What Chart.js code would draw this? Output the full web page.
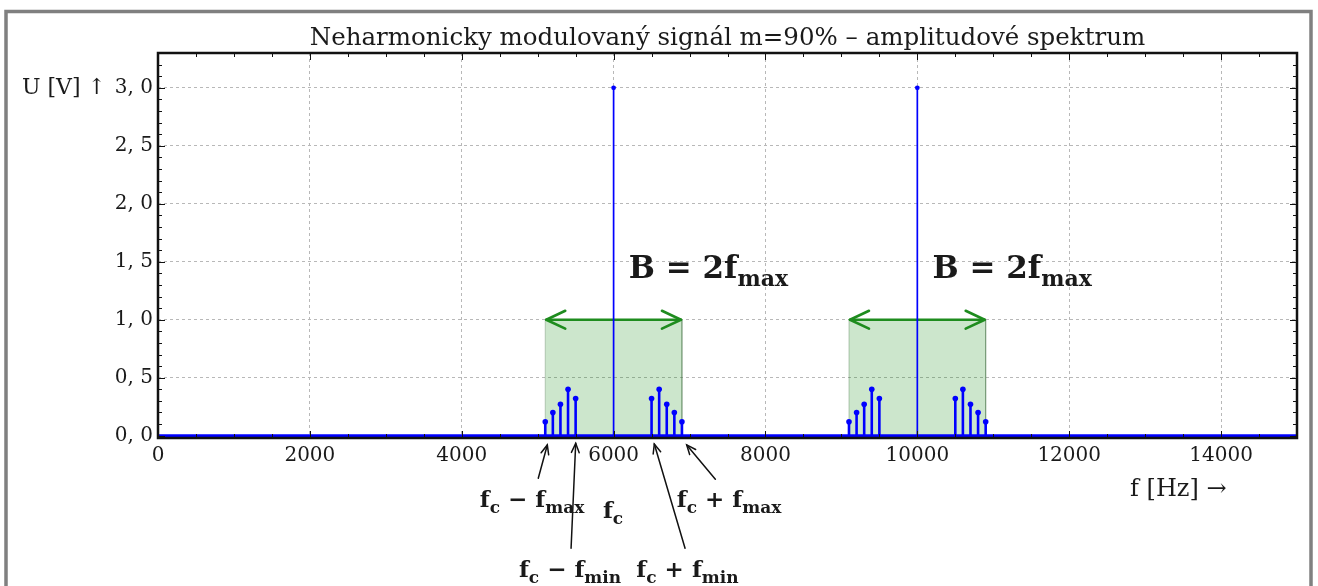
<!DOCTYPE html>
<html><head><meta charset="utf-8">
<script src="https://cdn.jsdelivr.net/npm/chart.js@4/dist/chart.umd.min.js"></script>
<style>html,body{margin:0;padding:0;background:#fff;overflow:hidden}canvas{display:block}</style>
</head><body>
<canvas id="c" width="1318" height="586" style="width:1318px;height:586px"></canvas>
<script>
// ---- data ----
const titleText = 'Neharmonicky modulovaný signál m=90% – amplitudové spektrum';
const xTickLabels = ['0', '2000', '4000', '6000', '8000', '10000', '12000', '14000'];
const yTickLabels = ['0, 0', '0, 5', '1, 0', '1, 5', '2, 0', '2, 5', '3, 0'];
const carrierFreqs = [6000, 10000];
const carrierAmps = [3.0, 3.0];
const sideFreqs = [5100, 5200, 5300, 5400, 5500, 6500, 6600, 6700, 6800, 6900,
                   9100, 9200, 9300, 9400, 9500, 10500, 10600, 10700, 10800, 10900];
const sideAmps = [0.12, 0.20, 0.27, 0.40, 0.32, 0.32, 0.40, 0.27, 0.20, 0.12,
                  0.12, 0.20, 0.27, 0.40, 0.32, 0.32, 0.40, 0.27, 0.20, 0.12];
const bandStart = [5100, 9100];
const bandEnd = [6900, 10900];
const bandLevel = [1.0, 1.0];
const freqRange = [0, 15000];

// ---- datasets built from data ----
const BLUE = '#0000ff';
function stems(freqs, amps) {
  const d = [];
  freqs.forEach((f, i) => { d.push({x: f, y: 0}, {x: f, y: amps[i]}, {x: f, y: null}); });
  return d;
}
const datasets = [
  {type: 'scatter', data: sideFreqs.map((f, i) => ({x: f, y: sideAmps[i]})), pointRadius: 2.8,
   pointBackgroundColor: BLUE, pointBorderWidth: 0, order: 0},
  {type: 'scatter', data: carrierFreqs.map((f, i) => ({x: f, y: carrierAmps[i]})), pointRadius: 2.4,
   pointBackgroundColor: BLUE, pointBorderWidth: 0, order: 0},
  {type: 'line', data: stems(sideFreqs, sideAmps), borderColor: BLUE, borderWidth: 2.6, pointRadius: 0, spanGaps: false, order: 1},
  {type: 'line', data: stems(carrierFreqs, carrierAmps), borderColor: BLUE, borderWidth: 1.7, pointRadius: 0, spanGaps: false, order: 1},
  {type: 'line', data: [{x: freqRange[0], y: 0}, {x: freqRange[1], y: 0}], borderColor: BLUE, borderWidth: 3, pointRadius: 0, order: 2},
];
bandStart.forEach((s, i) => {
  datasets.push({type: 'line', data: [{x: s, y: 0}, {x: s, y: bandLevel[i]}, {x: bandEnd[i], y: bandLevel[i]}, {x: bandEnd[i], y: 0}],
    fill: 'origin', backgroundColor: 'rgba(0,128,0,0.2)', borderColor: 'rgba(60,110,60,0.35)', borderWidth: 1,
    pointRadius: 0, tension: 0, order: 5, isBand: true});
});

// ---- helpers ----
const SERIF = '"DejaVu Serif", serif';
function drawMath(ctx, parts, x, y, o) {
  const fm = `${o.weight || 'normal'} ${o.size}px ${SERIF}`;
  const fs = `${o.weight || 'normal'} ${o.sub}px ${SERIF}`;
  let w = 0;
  parts.forEach(p => { ctx.font = p[1] ? fs : fm; w += ctx.measureText(p[0]).width; });
  let cx = o.align === 'center' ? x - w / 2 : x;
  ctx.textAlign = 'left'; ctx.textBaseline = 'alphabetic';
  parts.forEach(p => { ctx.font = p[1] ? fs : fm; ctx.fillText(p[0], cx, y + (p[1] ? o.drop : 0)); cx += ctx.measureText(p[0]).width; });
}
function arrowHead(ctx, x1, y1, x2, y2, len, ang) {
  const a = Math.atan2(y2 - y1, x2 - x1);
  ctx.beginPath();
  ctx.moveTo(x2 - len * Math.cos(a - ang), y2 - len * Math.sin(a - ang));
  ctx.lineTo(x2, y2);
  ctx.lineTo(x2 - len * Math.cos(a + ang), y2 - len * Math.sin(a + ang));
  ctx.stroke();
}

const annotations = {
  arrows: [ // [tailF, tailV, tipF, tipV]
    [5008, -0.367, 5127, -0.080],
    [5440, -0.971, 5501, -0.066],
    [6941, -0.971, 6536, -0.072],
    [7340, -0.376, 6963, -0.080]
  ],
  labels: [ // parts, f, v(baseline)
    [[['f', 0], ['c', 1], [' − ', 0], ['f', 0], ['max', 1]], 4926, -0.615],
    [[['f', 0], ['c', 1]], 5993, -0.709],
    [[['f', 0], ['c', 1], [' − ', 0], ['f', 0], ['min', 1]], 5426, -1.218],
    [[['f', 0], ['c', 1], [' + ', 0], ['f', 0], ['min', 1]], 6973, -1.218],
    [[['f', 0], ['c', 1], [' + ', 0], ['f', 0], ['max', 1]], 7521, -0.615]
  ],
  bandText: [[6200, 1.36], [10200, 1.36]]
};

const decor = {
  id: 'decor',
  afterDatasetDraw(chart, args) {
    const ds = chart.data.datasets[args.index];
    if (!ds.isBand) return;
    const {ctx, scales: {x, y}} = chart;
    const i = args.index - (chart.data.datasets.length - bandStart.length);
    const x1 = x.getPixelForValue(bandStart[i]), x2 = x.getPixelForValue(bandEnd[i]);
    const yy = y.getPixelForValue(bandLevel[i]);
    ctx.save();
    ctx.strokeStyle = '#1e8c1e'; ctx.lineWidth = 2.6; ctx.lineCap = 'round'; ctx.lineJoin = 'round';
    ctx.beginPath(); ctx.moveTo(x1 + 1, yy); ctx.lineTo(x2 - 1, yy); ctx.stroke();
    arrowHead(ctx, x2, yy, x1 + 1, yy, 21, 0.44);
    arrowHead(ctx, x1, yy, x2 - 1, yy, 21, 0.44);
    ctx.restore();
  },
  afterDraw(chart) {
    const {ctx, chartArea: ca, scales: {x, y}} = chart;
    ctx.save();
    // frame
    ctx.strokeStyle = '#111'; ctx.lineWidth = 2.5;
    ctx.strokeRect(ca.left, ca.top, ca.right - ca.left, ca.bottom - ca.top);
    // inward ticks
    ctx.lineWidth = 1;
    ctx.beginPath();
    for (let v = freqRange[0]; v <= freqRange[1]; v += 500) {
      const px = Math.round(x.getPixelForValue(v)) + 0.5;
      const L = v % 2000 === 0 ? 7 : 4;
      ctx.moveTo(px, ca.bottom); ctx.lineTo(px, ca.bottom - L);
      ctx.moveTo(px, ca.top); ctx.lineTo(px, ca.top + L);
    }
    for (let k = 0; k <= 33; k++) {
      const py = Math.round(y.getPixelForValue(k / 10)) + 0.5;
      const L = k % 5 === 0 ? 7 : 4;
      ctx.moveTo(ca.left, py); ctx.lineTo(ca.left + L, py);
      ctx.moveTo(ca.right, py); ctx.lineTo(ca.right - L, py);
    }
    ctx.stroke();
    // title
    ctx.fillStyle = '#1a1a1a';
    ctx.font = `24.5px ${SERIF}`; ctx.textAlign = 'center'; ctx.textBaseline = 'alphabetic';
    ctx.fillText(titleText, (ca.left + ca.right) / 2, ca.top - 8);
    // axis labels
    ctx.textAlign = 'left'; ctx.textBaseline = 'middle';
    ctx.font = `22px ${SERIF}`;
    ctx.fillText('U [V] ↑', 22, y.getPixelForValue(3.0));
    ctx.font = `24px ${SERIF}`;
    ctx.fillText('f [Hz] →', ca.right - 167, ca.bottom + 52);
    // band texts
    annotations.bandText.forEach(([f, v]) => {
      drawMath(ctx, [['B = 2f', 0], ['max', 1]], x.getPixelForValue(f), y.getPixelForValue(v),
        {size: 31, sub: 22, drop: 8, weight: 'bold'});
    });
    // arrows
    ctx.strokeStyle = '#111'; ctx.lineWidth = 1.5; ctx.lineCap = 'round';
    annotations.arrows.forEach(([tf, tv, hf, hv]) => {
      const x1 = x.getPixelForValue(tf), y1 = y.getPixelForValue(tv);
      const x2 = x.getPixelForValue(hf), y2 = y.getPixelForValue(hv);
      ctx.beginPath(); ctx.moveTo(x1, y1); ctx.lineTo(x2, y2); ctx.stroke();
      arrowHead(ctx, x1, y1, x2, y2, 10, 0.4);
    });
    annotations.labels.forEach(([parts, f, v]) => {
      drawMath(ctx, parts, x.getPixelForValue(f), y.getPixelForValue(v),
        {size: 23, sub: 17, drop: 6, weight: 'bold', align: 'center'});
    });
    // outer frame
    ctx.strokeStyle = '#808080'; ctx.lineWidth = 3.5;
    ctx.strokeRect(6, 11.5, 1305, 700);
    ctx.restore();
  }
};

new Chart(document.getElementById('c'), {
  data: {datasets},
  options: {
    responsive: false, animation: false,
    layout: {padding: {top: 53, right: 21, left: 0, bottom: 0}},
    plugins: {legend: {display: false}, tooltip: {enabled: false}, title: {display: false}},
    scales: {
      x: {type: 'linear', min: freqRange[0], max: freqRange[1],
        afterBuildTicks: s => { s.ticks = xTickLabels.map(l => ({value: Number(l)})); },
        afterFit: s => { s.height = 148; s.paddingLeft = 0; s.paddingRight = 0; },
        grid: {color: '#b8b8b8', lineWidth: 1, drawTicks: false},
        border: {display: false, dash: [3, 3]},
        ticks: {padding: 6, color: '#1a1a1a', autoSkip: false,
          font: {family: 'DejaVu Serif', size: 20}, maxRotation: 0,
          callback: (v, i) => xTickLabels[i]}},
      y: {type: 'linear', min: -0.02, max: 3.3,
        afterBuildTicks: s => { s.ticks = yTickLabels.map(l => ({value: Number(l.replace(', ', '.'))})); },
        afterFit: s => { s.width = 158; },
        grid: {color: '#b8b8b8', lineWidth: 1, drawTicks: false},
        border: {display: false, dash: [3, 3]},
        ticks: {padding: 5, color: '#1a1a1a', autoSkip: false,
          font: {family: 'DejaVu Serif', size: 20},
          callback: (v, i) => yTickLabels[i]}}
    }
  },
  plugins: [decor]
});
</script>
</body></html>
